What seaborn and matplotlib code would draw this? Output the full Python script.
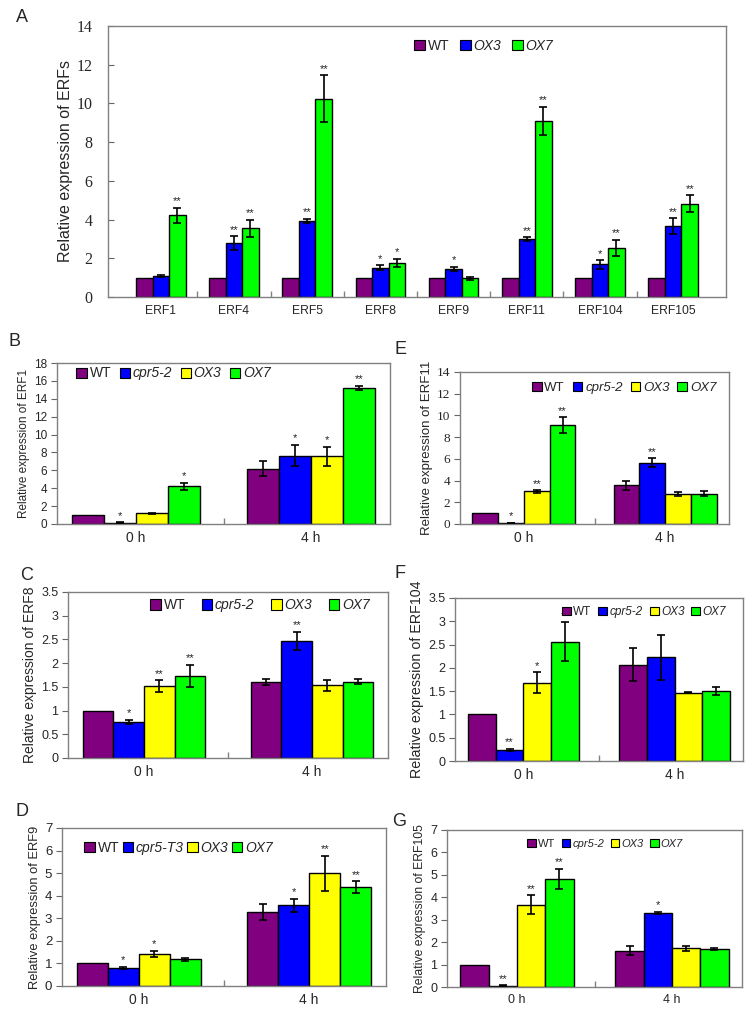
import numpy as np
import pandas as pd
import matplotlib
matplotlib.use("Agg")
import matplotlib.pyplot as plt
import seaborn as sns
from matplotlib.patches import Patch
from matplotlib.container import BarContainer
from matplotlib.ticker import FuncFormatter

sns.set_theme(style="white")
plt.rcParams['font.family'] = ['Liberation Sans', 'DejaVu Sans']

# ---------------- data ----------------
# Panel A
a_genes = ['ERF1', 'ERF4', 'ERF5', 'ERF8', 'ERF9', 'ERF11', 'ERF104', 'ERF105']
a_lines = ['WT', 'OX3', 'OX7']
a_wt = [1, 1, 1, 1, 1, 1, 1, 1]
a_wt_err = [0, 0, 0, 0, 0, 0, 0, 0]
a_ox3 = [1.07, 2.80, 3.92, 1.52, 1.45, 2.98, 1.68, 3.65]
a_ox3_err = [0.05, 0.35, 0.12, 0.12, 0.12, 0.10, 0.22, 0.42]
a_ox7 = [4.22, 3.55, 10.25, 1.75, 0.97, 9.10, 2.55, 4.82]
a_ox7_err = [0.40, 0.45, 1.20, 0.22, 0.08, 0.72, 0.42, 0.45]
a_wt_sig = ['', '', '', '', '', '', '', '']
a_ox3_sig = ['', '**', '**', '*', '*', '**', '*', '**']
a_ox7_sig = ['**', '**', '**', '*', '', '**', '**', '**']

times = ['0 h', '4 h']
lines_cpr = ['WT', 'cpr5-2', 'OX3', 'OX7']
lines_t3 = ['WT', 'cpr5-T3', 'OX3', 'OX7']

# rows: WT, cpr5, OX3, OX7 ; columns: 0 h, 4 h
b_vals = [[1.0, 6.2], [0.15, 7.65], [1.22, 7.55], [4.22, 15.2]]
b_errs = [[0, 0.85], [0.03, 1.2], [0.05, 1.1], [0.40, 0.25]]
b_sig = [['', ''], ['*', '*'], ['', '*'], ['*', '**']]

e_vals = [[1.0, 3.55], [0.08, 5.65], [3.0, 2.75], [9.1, 2.8]]
e_errs = [[0, 0.40], [0.02, 0.40], [0.10, 0.20], [0.72, 0.20]]
e_sig = [['', ''], ['*', '**'], ['**', ''], ['**', '']]

c_vals = [[1.0, 1.60], [0.76, 2.47], [1.52, 1.53], [1.73, 1.61]]
c_errs = [[0, 0.06], [0.05, 0.19], [0.12, 0.12], [0.24, 0.05]]
c_sig = [['', ''], ['*', '**'], ['**', ''], ['**', '']]

f_vals = [[1.0, 2.07], [0.24, 2.23], [1.68, 1.47], [2.56, 1.50]]
f_errs = [[0, 0.36], [0.02, 0.48], [0.23, 0.02], [0.42, 0.08]]
f_sig = [['', ''], ['**', ''], ['*', ''], ['**', '']]

d_vals = [[1.0, 3.27], [0.80, 3.58], [1.43, 5.0], [1.18, 4.37]]
d_errs = [[0, 0.35], [0.06, 0.28], [0.13, 0.78], [0.08, 0.27]]
d_sig = [['', ''], ['*', '*'], ['*', '**'], ['', '**']]

g_vals = [[1.0, 1.62], [0.06, 3.30], [3.67, 1.72], [4.82, 1.70]]
g_errs = [[0, 0.20], [0.02, 0.05], [0.43, 0.10], [0.45, 0.03]]
g_sig = [['', ''], ['**', '*'], ['**', ''], ['**', '']]

C_WT = '#800080'
C_CPR = '#0000ff'
C_OX3 = '#ffff00'
C_OX7 = '#00ff00'

W, H = 752, 1016
fig = plt.figure(figsize=(W / 100, H / 100), dpi=100)


def add_ax(x0, x1, y0, y1):
    return fig.add_axes([x0 / W, 1 - y1 / H, (x1 - x0) / W, (y1 - y0) / H])


def panel(ax, cats, lines, vals, errs, sigs, colors, width, ymax, ystep,
          tick_family, tick_size, ylabel, ylabel_size, leg_xy, leg_size,
          colspacing, xlabel_size, star_size=8, ytick_dir='out', ytick_pad=3):
    rows = []
    for i, ln in enumerate(lines):
        for j, c in enumerate(cats):
            rows.append({'cat': c, 'line': ln, 'value': vals[i][j]})
    df = pd.DataFrame(rows)
    sns.barplot(data=df, x='cat', y='value', hue='line', order=cats,
                hue_order=lines, palette=colors, width=width, gap=0,
                errorbar=None, edgecolor='black', linewidth=1.0,
                saturation=1, ax=ax, legend=False)
    bar_conts = [c for c in ax.containers if isinstance(c, BarContainer)]
    for i, cont in enumerate(bar_conts):
        for j, bar in enumerate(list(cont.patches)):
            x = bar.get_x() + bar.get_width() / 2
            h = bar.get_height()
            e = errs[i][j]
            if e > 0:
                ax.errorbar(x, h, yerr=e, fmt='none', ecolor='black',
                            elinewidth=1.2, capsize=3, capthick=1.2, zorder=5)
            s = sigs[i][j]
            if s:
                ax.annotate(s, (x, h + e), xytext=(0, 1),
                            textcoords='offset points', ha='center',
                            va='bottom', fontsize=star_size, color='#222222')
    ax.set_ylim(0, ymax)
    ax.set_yticks(np.arange(0, ymax + ystep / 2, ystep))
    ax.yaxis.set_major_formatter(FuncFormatter(lambda v, p: f'{v:g}'))
    ax.set_xlabel('')
    ax.set_ylabel(ylabel, fontsize=ylabel_size, labelpad=3)
    for sp in ax.spines.values():
        sp.set_visible(True)
        sp.set_color('#808080')
        sp.set_linewidth(1.0)
    ax.tick_params(axis='y', direction=ytick_dir, length=4, width=0.8,
                   color='#666666', left=True, labelsize=tick_size,
                   pad=ytick_pad)
    for t in ax.get_yticklabels():
        t.set_family(tick_family)
    ax.tick_params(axis='x', length=0, labelsize=xlabel_size, pad=5)
    n = len(cats)
    ax.set_xticks(np.arange(n - 1) + 0.5, minor=True)
    ax.tick_params(axis='x', which='minor', direction='in', length=4,
                   bottom=True, color='#808080')
    handles = [Patch(facecolor=c, edgecolor='black', linewidth=0.8)
               for c in colors]
    leg = ax.legend(handles, lines, loc='center', bbox_to_anchor=leg_xy,
                    ncol=len(lines), frameon=False, handlelength=0.75,
                    handleheight=0.75, handletextpad=0.2,
                    columnspacing=colspacing, fontsize=leg_size,
                    borderaxespad=0, borderpad=0)
    for t, ln in zip(leg.get_texts(), lines):
        if ln != 'WT':
            t.set_style('italic')
    ax.set_facecolor('white')


# Panel A
axA = add_ax(108, 726, 26, 297)
panel(axA, a_genes, a_lines, [a_wt, a_ox3, a_ox7],
      [a_wt_err, a_ox3_err, a_ox7_err], [a_wt_sig, a_ox3_sig, a_ox7_sig],
      ['#800080', C_CPR, C_OX7], 0.675, 14, 2,
      'Liberation Serif', 11.5, 'Relative expression of ERFs', 11.5,
      (0.608, 0.926), 10, 0.8, 8.7, ytick_dir='in', ytick_pad=11)
axA.tick_params(axis='x', which='major', pad=6)

# Panel B
axB = add_ax(57, 390, 363, 524)
panel(axB, times, lines_cpr, b_vals, b_errs, b_sig,
      [C_WT, C_CPR, C_OX3, C_OX7], 0.73, 18, 2,
      'Liberation Sans', 8.5, 'Relative expression of ERF1', 8.5,
      (0.35, 0.935), 10, 0.6, 10)

# Panel E
axE = add_ax(460, 729, 372, 524)
panel(axE, times, lines_cpr, e_vals, e_errs, e_sig,
      [C_WT, C_CPR, C_OX3, C_OX7], 0.73, 14, 2,
      'Liberation Serif', 9.5, 'Relative expression of ERF11', 9.5,
      (0.61, 0.895), 9.5, 0.6, 10)

# Panel C
axC = add_ax(68, 388, 592, 758)
panel(axC, times, lines_cpr, c_vals, c_errs, c_sig,
      [C_WT, C_CPR, C_OX3, C_OX7], 0.73, 3.5, 0.5,
      'Liberation Sans', 9, 'Relative expression of ERF8', 10,
      (0.60, 0.92), 10, 1.2, 10)

# Panel F
axF = add_ax(455, 743, 598, 761)
panel(axF, times, lines_cpr, f_vals, f_errs, f_sig,
      [C_WT, C_CPR, C_OX3, C_OX7], 0.73, 3.5, 0.5,
      'Liberation Sans', 9, 'Relative expression of ERF104', 10.3,
      (0.656, 0.914), 8.5, 0.6, 10)

# Panel D
axD = add_ax(62, 386, 828, 986)
panel(axD, times, lines_t3, d_vals, d_errs, d_sig,
      [C_WT, C_CPR, C_OX3, C_OX7], 0.73, 7, 1,
      'Liberation Sans', 9.5, 'Relative expression of ERF9', 9.3,
      (0.36, 0.873), 10, 0.25, 10)

# Panel G
axG = add_ax(447, 742, 830, 987)
panel(axG, times, lines_cpr, g_vals, g_errs, g_sig,
      [C_WT, C_CPR, C_OX3, C_OX7], 0.73, 7, 1,
      'Liberation Sans', 9, 'Relative expression of ERF105', 8.8,
      (0.536, 0.91), 8, 0.6, 9)

# panel letters
for letter, x, y in [('A', 22, 17), ('B', 15, 341), ('E', 400, 349),
                     ('C', 27, 576), ('F', 400, 574), ('D', 22, 812),
                     ('G', 399, 822)]:
    fig.text(x / W, 1 - y / H, letter, fontsize=13, ha='center', va='center')

fig.savefig('out.png', dpi=100, facecolor='white')
